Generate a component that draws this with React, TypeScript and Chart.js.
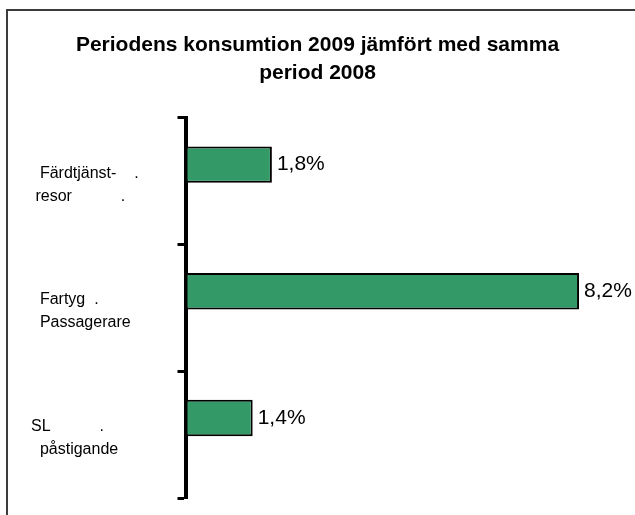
import React, { useEffect, useRef } from "react";
import { Chart, registerables } from "chart.js";

Chart.register(...registerables);

const titleLines = ["Periodens konsumtion 2009 jämfört med samma", "period 2008"];
const categories = [
  ["  Färdtjänst-    .", " resor           ."],
  ["  Fartyg  .", "  Passagerare"],
  ["SL           .", "  påstigande"],
];
const values = [1.8, 8.2, 1.4];
const emptySeries = [null, null, null];

const FONT = "'Liberation Sans', Arial, sans-serif";

const valueLabels = {
  id: "valueLabels",
  afterDatasetsDraw(chart: any) {
    const ctx = chart.ctx;
    const meta = chart.getDatasetMeta(0);
    ctx.save();
    ctx.font = `21px ${FONT}`;
    ctx.fillStyle = "#000";
    ctx.textAlign = "left";
    ctx.textBaseline = "middle";
    meta.data.forEach((el: any, i: number) => {
      const v = values[i];
      const txt = v.toFixed(1).replace(".", ",") + "%";
      ctx.fillText(txt, el.x + 5, el.y);
    });
    ctx.restore();
  },
};

export default function App() {
  const ref = useRef<HTMLCanvasElement | null>(null);
  useEffect(() => {
    if (!ref.current) return;
    const chart = new Chart(ref.current, {
      type: "bar",
      data: {
        labels: categories as any,
        datasets: [
          {
            data: values,
            backgroundColor: "#339966",
            borderColor: "#000",
            borderWidth: 2,
            borderSkipped: false,
            categoryPercentage: 0.527,
            barPercentage: 1.09,
          },
          {
            data: emptySeries as any,
            backgroundColor: "#339966",
            categoryPercentage: 0.527,
            barPercentage: 1.09,
          },
        ],
      },
      options: {
        indexAxis: "y",
        responsive: false,
        animation: false,
        devicePixelRatio: 1,
        layout: { padding: { top: 0, left: 31, right: 31, bottom: 17 } },
        plugins: {
          legend: { display: false },
          tooltip: { enabled: false },
          title: {
            display: true,
            text: titleLines,
            color: "#000",
            font: { family: FONT, size: 21, weight: "bold", lineHeight: 1.333 },
            padding: { top: 31, bottom: 31 },
          },
        },
        scales: {
          x: { display: false, min: 0, max: 8.72 },
          y: {
            position: "left",
            offset: true,
            grid: {
              display: true,
              offset: true,
              drawOnChartArea: false,
              drawTicks: true,
              tickLength: 8,
              tickWidth: 3,
              tickColor: "#000",
            },
            border: { display: true, color: "#000", width: 4 },
            ticks: {
              crossAlign: "far",
              color: "#000",
              padding: 0,
              labelOffset: 3.5,
              font: { family: FONT, size: 16, lineHeight: 1.45 },
            },
            afterFit(scale: any) {
              scale.width = 154.5;
              scale.paddingTop = 0;
              scale.paddingBottom = 0;
            },
          },
        },
      },
      plugins: [valueLabels],
    });
    return () => chart.destroy();
  }, []);

  return (
    <div
      style={{
        position: "fixed",
        left: 0,
        top: 0,
        width: 635,
        height: 515,
        overflow: "hidden",
        background: "#fff",
      }}
    >
      <div
        style={{
          position: "absolute",
          left: 6,
          top: 9,
          width: 700,
          height: 600,
          border: "2px solid #3c3c3c",
        }}
      />
      <canvas
        ref={ref}
        width={635}
        height={515}
        style={{ position: "absolute", left: 0, top: 0, width: 635, height: 515 }}
      />
    </div>
  );
}
